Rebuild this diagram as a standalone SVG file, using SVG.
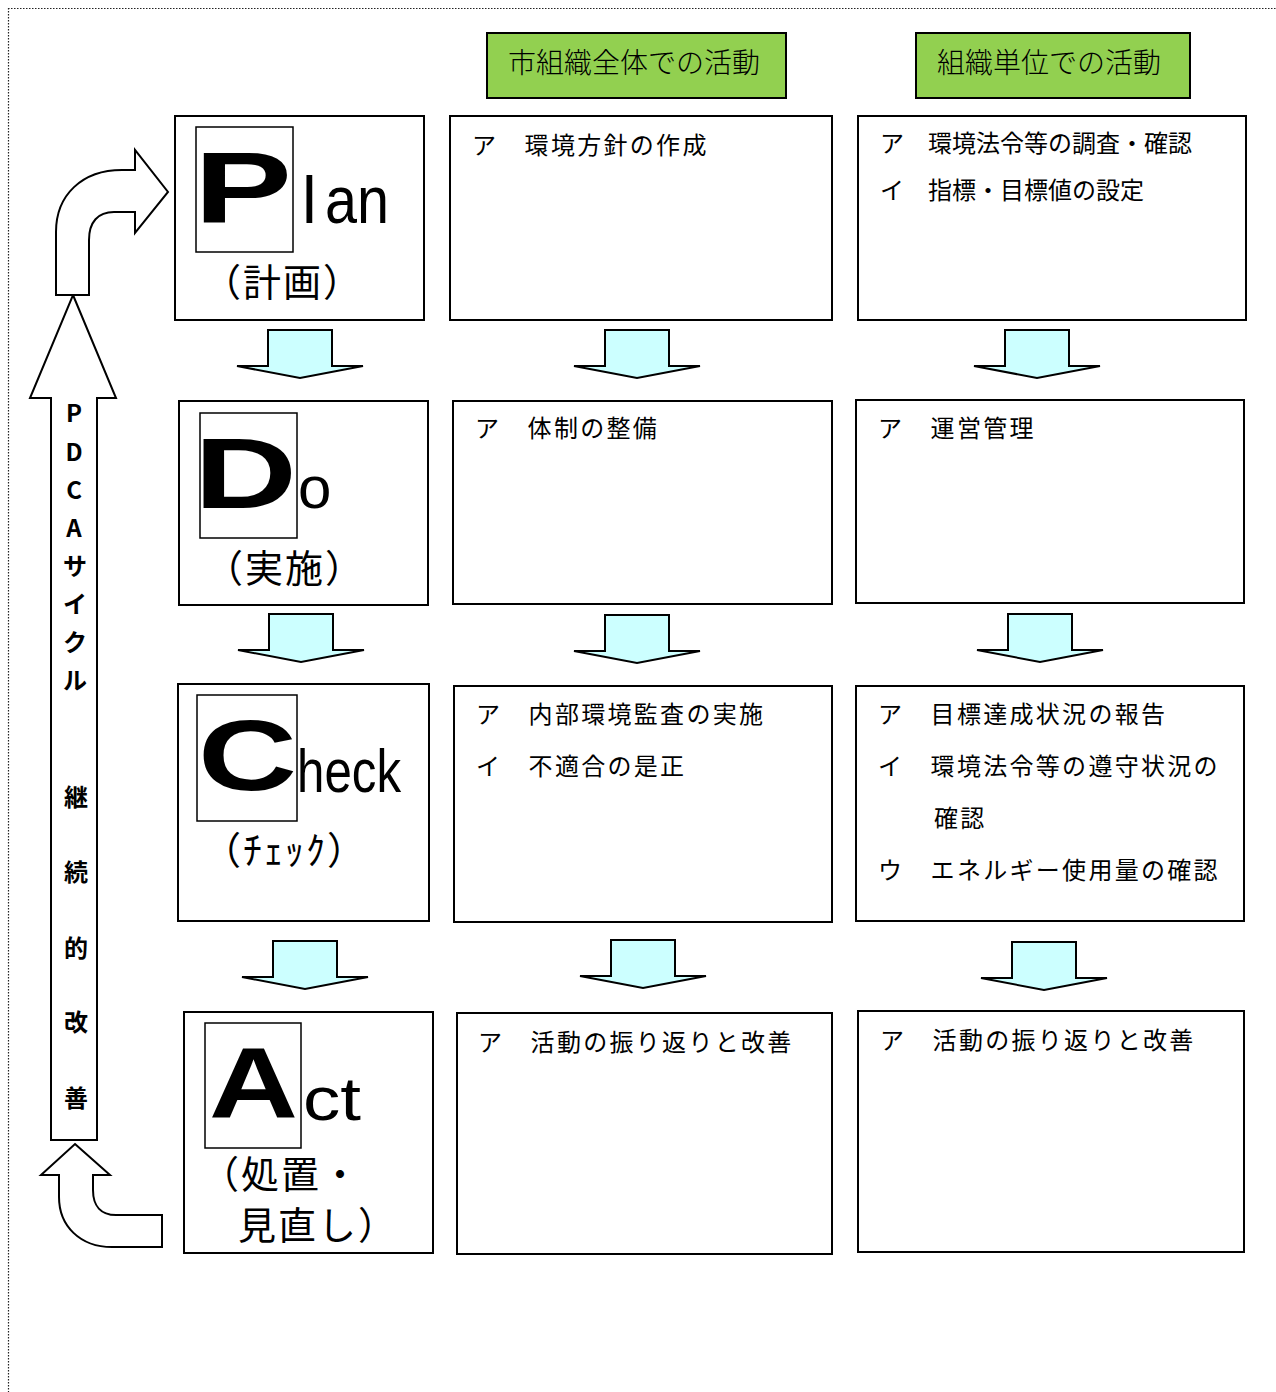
<svg xmlns="http://www.w3.org/2000/svg" xmlns:xlink="http://www.w3.org/1999/xlink" width="1276" height="1392" viewBox="0 0 1276 1392">
<style>
.box{fill:#fff;stroke:#000;stroke-width:2}
.hdr{fill:#92D050;stroke:#000;stroke-width:2}
.ibox{fill:none;stroke:#000;stroke-width:1.5}
.jp{font-family:"Noto Sans CJK JP","Noto Sans CJK SC",sans-serif;fill:#000}
.item{font-size:24px;letter-spacing:2.3px}
.item0{font-size:24px}
.htxt{font-size:28px;text-anchor:middle;font-weight:300}
.par{font-size:38px;letter-spacing:2px}
.big{font-family:"Liberation Sans",Arial,sans-serif;font-weight:bold;font-size:100px;fill:#000}
.lat{font-family:"Liberation Sans",Arial,sans-serif;fill:#000}
.vt{font-size:24px;font-weight:bold;text-anchor:middle}
.arr{fill:#fff;stroke:#000;stroke-width:2;stroke-linejoin:miter}
.dn{fill:#CCFFFF;stroke:#000;stroke-width:2;stroke-linejoin:miter}
.frame{fill:none;stroke:#222;stroke-width:1.2;stroke-dasharray:1.5 1.5}
</style>
<defs>
<path id="down" class="dn" d="M-32,0 V36 H-63 L0,48 L63,36 H32 V0 Z"/>
</defs>
<rect width="1276" height="1392" fill="#fff"/>
<g id="frame">
<line class="frame" x1="8" y1="8.5" x2="1276" y2="8.5"/>
<line class="frame" x1="8.5" y1="8" x2="8.5" y2="1392"/>
</g>

<g id="header-city">
<rect class="hdr" x="487" y="33" width="299" height="65"/>
<text class="jp htxt" x="634" y="73">市組織全体での活動</text>
</g>
<g id="header-unit">
<rect class="hdr" x="916" y="33" width="274" height="65"/>
<text class="jp htxt" x="1049" y="73">組織単位での活動</text>
</g>

<g id="plan">
<rect class="box" x="175" y="116" width="249" height="204"/>
<rect class="ibox" x="196" y="127" width="97" height="125"/>
<text class="big" x="194" y="222" textLength="98" lengthAdjust="spacingAndGlyphs">P</text>
<text class="lat" font-size="66" y="223"><tspan x="302">l</tspan><tspan x="325" textLength="64" lengthAdjust="spacingAndGlyphs">an</tspan></text>
<text class="jp par" x="203" y="296">（計画）</text>
</g>
<g id="do">
<rect class="box" x="179" y="401" width="249" height="204"/>
<rect class="ibox" x="200" y="413" width="97" height="125"/>
<text class="big" x="194" y="508" textLength="103" lengthAdjust="spacingAndGlyphs">D</text>
<text class="lat" font-size="60" x="298" y="508">o</text>
<text class="jp par" x="205" y="582">（実施）</text>
</g>
<g id="check">
<rect class="box" x="178" y="684" width="251" height="237"/>
<rect class="ibox" x="197" y="695" width="100" height="126"/>
<text class="big" x="198" y="790" textLength="99" lengthAdjust="spacingAndGlyphs">C</text>
<text class="lat" font-size="62" x="297" y="792" textLength="104" lengthAdjust="spacingAndGlyphs">heck</text>
<text class="jp par" x="203" y="864">（ﾁｪｯｸ）</text>
</g>
<g id="act">
<rect class="box" x="184" y="1012" width="249" height="241"/>
<rect class="ibox" x="205" y="1023" width="96" height="125"/>
<text class="big" x="209" y="1118" textLength="89" lengthAdjust="spacingAndGlyphs">A</text>
<text class="lat" font-size="62" x="303" y="1120" textLength="58" lengthAdjust="spacingAndGlyphs">ct</text>
<text class="jp par" x="201" y="1188">（処置・</text>
<text class="jp par" x="238" y="1239">見直し）</text>
</g>

<g id="city-plan">
<rect class="box" x="450" y="116" width="382" height="204"/>
<text class="jp item" x="472" y="154">ア　環境方針の作成</text>
</g>
<g id="city-do">
<rect class="box" x="453" y="401" width="379" height="203"/>
<text class="jp item" x="475" y="437">ア　体制の整備</text>
</g>
<g id="city-check">
<rect class="box" x="454" y="686" width="378" height="236"/>
<text class="jp item" x="476" y="723">ア　内部環境監査の実施</text>
<text class="jp item" x="476" y="775">イ　不適合の是正</text>
</g>
<g id="city-act">
<rect class="box" x="457" y="1013" width="375" height="241"/>
<text class="jp item" x="478" y="1051">ア　活動の振り返りと改善</text>
</g>

<g id="unit-plan">
<rect class="box" x="858" y="116" width="388" height="204"/>
<text class="jp item0" x="880" y="152">ア　環境法令等の調査・確認</text>
<text class="jp item0" x="880" y="199">イ　指標・目標値の設定</text>
</g>
<g id="unit-do">
<rect class="box" x="856" y="400" width="388" height="203"/>
<text class="jp item" x="878" y="437">ア　運営管理</text>
</g>
<g id="unit-check">
<rect class="box" x="856" y="686" width="388" height="235"/>
<text class="jp item" x="878" y="723">ア　目標達成状況の報告</text>
<text class="jp item" x="878" y="775">イ　環境法令等の遵守状況の</text>
<text class="jp item" x="934" y="827">確認</text>
<text class="jp item" x="878" y="879">ウ　エネルギー使用量の確認</text>
</g>
<g id="unit-act">
<rect class="box" x="858" y="1011" width="386" height="241"/>
<text class="jp item" x="880" y="1049">ア　活動の振り返りと改善</text>
</g>

<g id="pdca-cycle">
<path class="arr" d="M73,295 L116,398 H97 V1140 H51 V398 H30 Z"/>
<text class="jp vt"><tspan x="74" y="422">P</tspan><tspan x="74" y="461">D</tspan><tspan x="74" y="499">C</tspan><tspan x="74" y="537">A</tspan><tspan x="75" y="575">サ</tspan><tspan x="75" y="613">イ</tspan><tspan x="75" y="651">ク</tspan><tspan x="75" y="689">ル</tspan><tspan x="76" y="806">継</tspan><tspan x="76" y="881">続</tspan><tspan x="76" y="957">的</tspan><tspan x="76" y="1031">改</tspan><tspan x="76" y="1107">善</tspan></text>
</g>

<g id="connectors">
<path class="arr" d="M56,295 V232 C56,195 82,170 122,170 H135 V150 L168,192 L135,233 V212 H114 C98,212 89,222 89,240 V295 Z"/>
<path class="arr" d="M75,1144 L110,1175 H93 V1190 C93,1206 101,1215 116,1215 H162 V1247 H112 C80,1247 59,1226 59,1197 V1175 H41 Z"/>
<use xlink:href="#down" x="300" y="330"/>
<use xlink:href="#down" x="637" y="330"/>
<use xlink:href="#down" x="1037" y="330"/>
<use xlink:href="#down" x="301" y="614"/>
<use xlink:href="#down" x="637" y="615"/>
<use xlink:href="#down" x="1040" y="614"/>
<use xlink:href="#down" x="305" y="941"/>
<use xlink:href="#down" x="643" y="940"/>
<use xlink:href="#down" x="1044" y="942"/>
</g>
</svg>
